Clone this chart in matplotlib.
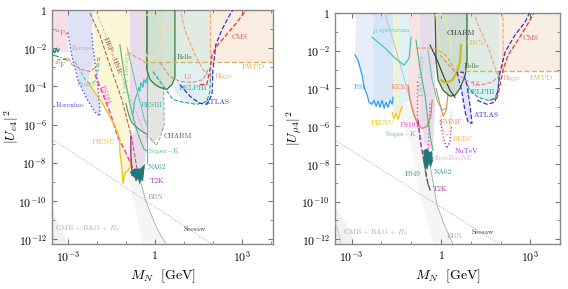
import numpy as np
import matplotlib
matplotlib.use('Agg')
import matplotlib.pyplot as plt
from matplotlib.ticker import FixedLocator, NullFormatter

plt.rcParams['font.family'] = ['cmr10', 'DejaVu Serif']
plt.rcParams['mathtext.fontset'] = 'cm'
plt.rcParams['axes.formatter.use_mathtext'] = True

# all curves as (log10 M/GeV, log10 |U|^2) pairs

# ---- common ----
seesaw_m = [-4.0, 4.5]
seesaw_k = -10.3                      # log10 of m_nu / GeV
e_bbn_band = [(-1.6, -4.5), (-1.14, -7.0), (-0.79, -9.6), (-0.41, -12.3),
              (0.41, -12.3), (0.2, -11.8), (0.0, -11.2), (-0.3, -10.05), (-0.55, -8.7), (-0.9, -6.0)]
e_bbn = [(-0.55, -8.7), (-0.3, -10.05), (0.0, -11.2), (0.2, -11.8), (0.41, -12.3)]
e_cmb = [(-3.6, -10.3), (-3.4, -10.9), (-3.2, -11.6), (-3.0, -12.3), (-3.6, -12.3)]

# ---- electron panel ----
e_pr_box = [(-3.6, 0.1), (-3.0, 0.1), (-3.0, -2.2), (-3.6, -2.2)]
e_borexino = [(-3.0, -1.19), (-2.86, -2.44), (-2.66, -3.64), (-2.34, -4.68), (-2.07, -5.35),
              (-1.90, -5.56), (-1.90, -5.19), (-2.0, -3.48), (-2.14, -1.92), (-2.17, -1.14)]
e_bugey = [(-2.76, -2.70), (-2.59, -3.12), (-2.41, -3.64), (-2.24, -3.84), (-2.07, -3.74),
           (-1.97, -3.22), (-1.90, -2.44)]
e_rovno = [(-3.38, -2.6), (-3.17, -2.6), (-3.0, -2.49), (-2.86, -2.86), (-2.52, -3.12),
           (-2.24, -3.22), (-2.0, -2.96), (-1.97, -2.49)]
e_f20 = [(-3.55, -2.35), (-3.3, -2.45), (-3.0, -2.65)]
e_f20_wig = [(-3.55, -2.3), (-3.5, -2.1), (-3.45, -2.25), (-3.4, -2.0), (-3.35, -2.2), (-3.3, -2.05)]
e_yellow = [(-2.1, 0.1), (-0.86, 0.1), (-0.86, -5.5), (-0.83, -7.79), (-0.93, -8.42), (-1.1, -9.09),
            (-1.21, -7.4), (-1.38, -6.08), (-1.79, -4.94), (-2.31, -3.79), (-2.1, -2.5)]
e_pienu = [(-2.31, -3.79), (-1.79, -4.94), (-1.38, -6.08), (-1.21, -6.75), (-1.21, -7.43),
           (-1.14, -8.21), (-1.10, -9.09), (-1.07, -8.73), (-1.0, -8.47), (-0.93, -8.42),
           (-0.86, -8.21), (-0.83, -7.79)]
e_hep = [(-2.24, -0.16), (-1.9, -1.3), (-1.62, -2.6), (-1.14, -4.68), (-0.79, -6.75), (-0.62, -8.31)]
e_gray = [(-2.07, 0.1), (-0.28, -6.75)]
e_ps191 = [(-2.07, -3.38), (-1.79, -4.42), (-1.55, -5.35), (-1.28, -6.65), (-1.03, -7.38),
           (-0.86, -7.95), (-0.76, -8.31)]
e_lnv = [(-0.86, 0.1), (-0.28, 0.1), (-0.28, -7.0), (-0.6, -6.8), (-0.86, -5.5)]
e_t2k_fill = [(-0.86, -6.5), (-0.79, -8.55), (-0.62, -9.0), (-0.41, -8.8), (-0.3, -7.3), (-0.34, -6.2)]
e_t2k = [(-0.83, -6.6), (-0.83, -7.5), (-0.80, -8.3), (-0.76, -8.6), (-0.70, -8.75)]
e_na62 = [(-0.86, -8.47), (-0.79, -8.73), (-0.72, -8.62), (-0.66, -8.99), (-0.59, -8.83),
          (-0.52, -9.14), (-0.48, -8.88), (-0.41, -8.99), (-0.38, -8.57), (-0.34, -8.05),
          (-0.5, -8.3), (-0.7, -8.3)]
e_lnv_line = [(-0.28, 0.1), (-0.28, -8.0)]
e_besiii = [(-0.76, -5.45), (-0.69, -4.68), (-0.62, -4.42), (-0.55, -4.05), (-0.52, -4.26),
            (-0.48, -3.79), (-0.41, -4.05), (-0.38, -3.64), (-0.31, -3.84), (-0.28, -3.53)]
e_sk1 = [(-1.21, -1.82), (-1.03, -3.64), (-0.86, -4.94), (-0.69, -5.97), (-0.52, -6.75),
         (-0.38, -7.27), (-0.28, -7.38)]
e_sk2 = [(-1.0, -4.9), (-0.9, -5.5), (-0.8, -5.9), (-0.65, -6.1), (-0.5, -6.3), (-0.28, -6.5)]
e_sk3 = [(-0.95, -2.0), (-0.8, -3.0), (-0.6, -4.3), (-0.45, -5.2), (-0.35, -5.8), (-0.28, -6.0)]
e_charm = [(-0.28, 0.1), (0.30, 0.1), (0.30, -6.3), (0.1, -6.7), (-0.1, -7.0), (-0.28, -6.6)]
e_charm_edge = [(0.30, -4.0), (0.32, -6.0), (0.2, -6.6), (0.05, -7.1), (-0.15, -6.7)]
e_belle = [(-0.28, 0.1), (-0.28, -3.12), (-0.17, -3.64), (0.0, -3.9), (0.17, -4.05), (0.41, -4.16),
           (0.59, -3.9), (0.69, -3.53), (0.69, 0.1)]
e_na3 = [(-0.41, -0.26), (0.0, -0.26), (0.28, -0.78), (0.28, -1.56), (0.1, -2.34), (-0.17, -2.6),
         (-0.41, -2.08), (-0.41, -0.26)]
e_orange = [(-0.95, -2.2), (-0.6, -2.5), (-0.35, -2.7)]
e_mid_green = [(0.69, 0.1), (1.9, 0.1), (1.9, -2.7), (0.69, -2.7)]
e_peach = [(1.9, 0.1), (4.2, 0.1), (4.2, -2.7), (1.9, -2.7)]
e_ewpd = [(-0.4, -2.7), (4.2, -2.7)]
e_delphi_fill = [(0.69, -2.7), (0.69, -4.3), (0.97, -4.83), (1.45, -4.94), (1.79, -4.78),
                 (1.90, -4.26), (1.93, -2.7)]
e_delphi = [(-0.07, -3.22), (0.62, -4.68), (0.97, -4.83), (1.45, -4.94), (1.79, -4.78),
            (1.90, -4.26), (1.93, -2.75)]
e_atlas = [(0.86, -3.9), (1.21, -4.52), (1.55, -4.88), (1.79, -4.94), (1.97, -4.42), (2.0, -3.12),
           (2.1, -1.82), (2.31, -1.04), (2.52, -0.42), (2.72, 0.1)]
e_cms = [(1.55, -3.9), (1.79, -3.9), (1.90, -3.12), (1.97, -2.34), (2.17, -1.82), (2.41, -1.4),
         (2.76, -0.78), (3.10, -0.1), (3.2, 0.1)]
e_l3 = [(0.17, -2.75), (0.52, -3.48), (0.86, -3.74), (1.31, -3.79), (1.66, -3.64), (1.83, -3.12)]
e_higgs = [(0.86, 0.1), (1.03, -1.04), (1.38, -2.34), (1.66, -3.12), (1.9, -3.53), (2.0, -3.38)]
e_higgs2 = [(1.9, 0.1), (1.9, -2.6)]

# ---- muon panel ----
m_psi = [(-2.89, -2.23), (-2.79, -2.5), (-2.65, -3.3), (-2.58, -3.94), (-2.48, -4.36), (-2.42, -4.73),
         (-2.32, -4.84), (-2.25, -4.63), (-2.18, -4.95), (-2.11, -4.68), (-2.05, -5.0), (-1.98, -4.63),
         (-1.91, -5.05), (-1.85, -4.73), (-1.78, -5.0), (-1.71, -4.63), (-1.64, -4.84), (-1.61, -4.47)]
m_blue_dark = [(-2.28, 0.1), (-2.28, -4.8), (-1.61, -4.5), (-1.61, 0.1)]
m_mu_spec = [(-2.32, -1.28), (-1.88, -1.86), (-1.58, -2.34), (-1.24, -2.77), (-1.07, -2.39), (-1.01, -1.28)]
m_pienu = [(-1.64, -5.27), (-1.58, -5.59), (-1.51, -5.32), (-1.44, -5.64), (-1.38, -5.27), (-1.31, -4.95)]
m_yellow = [(-1.61, 0.1), (-1.61, -5.3), (-1.38, -5.3), (-1.38, 0.1)]
m_cyan = [(-1.38, 0.1), (-1.38, -4.9), (-1.04, -4.6), (-1.04, 0.1)]
m_kek = [(-1.11, -3.83), (-1.04, -4.63), (-0.91, -5.43), (-0.77, -5.9), (-0.64, -6.12), (-0.47, -6.01),
         (-0.34, -5.43), (-0.30, -4.63)]
m_lnv = [(-0.7, 0.1), (-0.2, 0.1), (-0.2, -5.0), (-0.27, -7.3), (-0.55, -7.0), (-0.7, -5.5)]
m_gray = [(-1.91, 0.1), (-1.58, -1.6), (-0.64, -6.76)]
m_ps191_a = [(-0.8, -3.6), (-0.8, -6.0)]
m_ps191_b = [(-0.37, -4.8), (-0.44, -7.6)]
m_t2k = [(-0.77, -5.69), (-0.7, -6.76), (-0.54, -8.19), (-0.44, -9.04), (-0.34, -9.52)]
m_na62 = [(-0.6, -7.29), (-0.47, -7.18), (-0.37, -7.39), (-0.30, -7.29), (-0.27, -7.82), (-0.34, -8.19),
          (-0.40, -7.98), (-0.47, -8.35), (-0.57, -7.98)]
m_e949 = [(-0.6, -7.6), (-0.55, -8.2), (-0.48, -8.8), (-0.42, -9.2)]
m_sk = [(-0.84, -1.44), (-0.7, -3.03), (-0.54, -4.36), (-0.44, -5.69), (-0.34, -6.76), (-0.27, -7.29)]
m_lnv_curve = [(-0.44, -1.97), (-0.3, -3.56), (-0.13, -4.63), (0.03, -5.16), (0.17, -5.05)]
m_charm = [(-0.2, 0.1), (0.87, 0.1), (0.87, -2.5), (0.81, -3.3), (0.64, -3.99), (0.47, -4.36),
           (0.3, -4.41), (0.07, -4.1), (-0.1, -3.56), (-0.2, -2.5)]
m_belle = [(-0.2, 0.1), (-0.17, -2.5), (-0.1, -3.56), (0.07, -4.1), (0.3, -4.41), (0.47, -4.36),
           (0.64, -3.99), (0.81, -3.3), (0.87, -2.5), (0.87, 0.1)]
m_charm_line = [(-0.37, -1.7), (-0.13, -2.5), (0.07, -3.3), (0.3, -4.1), (0.47, -4.47)]
m_lhcb = [(0.67, -1.7), (0.64, -2.5), (0.54, -3.14), (0.37, -3.56), (0.17, -3.72), (0.0, -3.56)]
m_na3 = [(-0.17, -0.1), (0.0, -0.05), (0.17, -0.64), (0.3, -1.33), (0.37, -1.97), (0.23, -2.5),
         (0.0, -2.2), (-0.1, -1.0), (-0.17, -0.1)]
m_orange = [(-0.85, -1.86), (-0.2, -1.86), (0.2, -2.3), (0.45, -3.0)]
m_mid_green = [(0.87, 0.1), (1.95, 0.1), (1.95, -3.09), (0.87, -3.09)]
m_peach = [(1.95, 0.1), (4.1, 0.1), (4.1, -3.09), (1.95, -3.09)]
m_ewpd = [(0.8, -3.09), (4.1, -3.09)]
m_delphi_fill = [(0.81, -3.09), (0.81, -3.56), (0.97, -4.1), (1.24, -4.47), (1.58, -4.63),
                 (1.81, -4.52), (1.91, -4.1), (1.95, -3.09)]
m_delphi = [(0.81, -3.56), (0.97, -4.1), (1.24, -4.47), (1.58, -4.63), (1.81, -4.52), (1.91, -4.1),
            (1.95, -3.09)]
m_atlas_blob = [(0.54, -3.14), (0.70, -4.2), (0.81, -5.27), (0.91, -5.8), (1.04, -5.85), (0.97, -4.89),
                (0.87, -3.83), (0.74, -3.14), (0.54, -3.14)]
m_atlas = [(1.21, -4.63), (1.54, -4.84), (1.81, -4.73), (1.91, -4.1), (1.98, -3.14), (2.15, -2.07),
           (2.48, -1.17), (2.82, -0.48), (3.0, 0.1)]
m_cms = [(1.64, -4.63), (1.88, -4.52), (1.98, -3.83), (2.08, -3.03), (2.25, -2.23), (2.58, -1.44),
         (2.89, -0.64), (3.15, 0.1)]
m_l3 = [(-0.03, -2.23), (0.47, -3.14), (0.81, -3.56), (1.31, -3.83), (1.71, -3.67), (1.98, -3.3)]
m_higgs = [(1.1, 0.1), (1.2, -0.5), (1.6, -1.9), (1.85, -3.1), (1.95, -3.4)]
m_higgs2 = [(2.08, 0.1), (2.08, -2.3), (2.05, -3.1)]
m_fmmf = [(-0.17, -3.99), (-0.03, -4.89), (0.07, -5.48), (0.17, -5.16), (0.23, -4.36)]
m_bebc = [(-0.03, -5.43), (0.10, -6.22), (0.2, -6.54), (0.3, -6.12), (0.35, -5.2)]
m_nutev = [(-0.03, -5.69), (0.1, -6.76), (0.2, -7.18), (0.3, -6.76), (0.35, -6.0)]
m_bbn_band = [(-1.6, -4.5), (-1.01, -7.02), (-0.70, -9.68), (-0.23, -12.4),
              (0.44, -12.4), (0.1, -11.2), (-0.13, -10.2), (-0.3, -8.7), (-0.45, -7.3), (-0.9, -5.0)]
m_bbn = [(-0.45, -7.3), (-0.3, -8.7), (-0.13, -10.2), (0.1, -11.2), (0.44, -12.4)]
m_cmb = [(-3.6, -10.2), (-3.3, -10.9), (-3.05, -11.6), (-2.85, -12.4), (-3.6, -12.4)]
m_cmb_arc = [(-3.6, -10.9), (-3.45, -11.6), (-3.35, -12.4)]


def pts(p):
    a = np.array(p, dtype=float)
    return 10 ** a[:, 0], 10 ** a[:, 1]


def fill(ax, p, c, a=1.0, z=1):
    x, y = pts(p)
    ax.fill(x, y, color=c, alpha=a, lw=0, zorder=z)


def line(ax, p, c, ls='-', lw=0.8, z=3):
    x, y = pts(p)
    ax.plot(x, y, color=c, ls=ls, lw=lw, zorder=z)


def lab(ax, s, lm, lu, c, rot=0, ha='center', fs=5.3):
    ax.text(10 ** lm, 10 ** lu, s, color=c, rotation=rot, ha=ha, va='center', fontsize=fs, zorder=6)


fig = plt.figure(figsize=(5.68, 2.89), dpi=100)
ax1 = fig.add_axes([0.0915, 0.1557, 0.389, 0.8097])
ax2 = fig.add_axes([0.5898, 0.1557, 0.396, 0.7993])

for ax in (ax1, ax2):
    ax.set_xscale('log')
    ax.set_yscale('log')
    ax.set_ylim(10 ** -12.25, 1)
    m = np.array(seesaw_m)
    ax.plot(10 ** m, 10 ** (seesaw_k - m), color='#999999', ls=':', lw=0.6, zorder=2)
    ax.xaxis.set_major_locator(FixedLocator([1e-3, 1, 1e3]))
    ax.set_xticklabels([r'$10^{-3}$', r'$1$', r'$10^{3}$'])
    ax.xaxis.set_minor_locator(FixedLocator([10.0 ** k for k in range(-4, 5)]))
    ax.xaxis.set_minor_formatter(NullFormatter())
    ax.yaxis.set_major_locator(FixedLocator([10.0 ** k for k in range(-12, 1, 2)]))
    ax.set_yticklabels([r'$10^{%d}$' % k if k else r'$1$' for k in range(-12, 1, 2)])
    ax.yaxis.set_minor_locator(FixedLocator([10.0 ** k for k in range(-13, 1)]))
    ax.yaxis.set_minor_formatter(NullFormatter())
    ax.tick_params(which='both', direction='in', top=True, right=True, color='#777777', labelsize=8.5)
    ax.tick_params(which='major', length=3.5)
    ax.tick_params(which='minor', length=2)
    for s in ax.spines.values():
        s.set_color('#888888')
        s.set_linewidth(1.0)
    ax.set_xlabel(r'$M_N\ \ [\mathrm{GeV}]$', fontsize=10, labelpad=3)

ax1.set_xlim(10 ** -3.55, 10 ** 4.07)
ax2.set_xlim(10 ** -3.56, 10 ** 3.99)
ax1.set_ylabel(r'$|U_{e4}|^2$', fontsize=10)
ax2.set_ylabel(r'$|U_{\mu 4}|^2$', fontsize=10)
ax1.yaxis.set_label_coords(-0.14, 0.5)
ax2.yaxis.set_label_coords(-0.14, 0.5)

# ---------------- electron panel ----------------
a = ax1
fill(a, e_cmb, '#f1f1f1')
fill(a, e_bbn_band, '#f5f5f5')
line(a, e_bbn, '#aaaaaa', lw=0.6)
fill(a, e_pr_box, '#f6e0e7')
fill(a, [(-3.0, 0.1)] + e_borexino + [(-2.1, 0.1)], '#dfe2f4')
fill(a, e_yellow, '#fbf6d6')
fill(a, e_lnv, '#e6dced')
fill(a, e_t2k_fill, '#eadcf0')
fill(a, e_charm, '#e3e5e3')
fill(a, e_belle, '#cfe0d2', 0.9)
fill(a, e_mid_green, '#e1ebe2')
fill(a, e_peach, '#f8ede0')
fill(a, e_delphi_fill, '#e0f1f1')
fill(a, e_na62, '#1e7878', z=4)

line(a, e_gray, '#bbbbbb', '--', 0.6)
line(a, e_borexino, '#5555ee', ':', 1.0)
line(a, e_bugey, '#55cccc', '--')
line(a, e_rovno, '#e88080', '--')
line(a, e_f20, '#3a9a3a', '-.')
line(a, e_f20_wig, '#1e8a8a', '-', 0.9)
line(a, e_hep, '#b06a40', '--')
line(a, e_ps191, '#ff33cc', '--', 1.0)
line(a, e_pienu, '#f2c200', '-', 0.9)
line(a, e_t2k, '#a030a8', '-', 1.0)
line(a, e_lnv_line, '#50c0a0', '-', 0.8)
line(a, e_besiii, '#30c0c0', '-', 0.8)
line(a, e_sk1, '#50b878')
line(a, e_sk2, '#3a9a6a')
line(a, e_sk3, '#70c8a0')
line(a, e_charm_edge, '#999999', '--', 0.7)
line(a, e_belle, '#2e7d32', '-', 0.9)
line(a, e_na3, '#efe3b8', '-', 0.9)
line(a, e_orange, '#e8a060', '--')
line(a, e_ewpd, '#d8b060', '--', 1.0)
line(a, e_delphi, '#2a9d9d', '--')
line(a, e_l3, '#f08080', '--')
line(a, e_higgs, '#f4a070', '--')
line(a, e_higgs2, '#f4a070', '--')
line(a, e_atlas, '#3333cc', '--', 0.9)
line(a, e_cms, '#ee3333', '--', 0.9)

lab(a, r'$^{44}$Pr', -3.21, -1.19, '#e06070')
lab(a, 'Rovno', -2.52, -1.97, '#e89090')
lab(a, r'$^{20}$F', -3.28, -2.86, '#3a9a3a')
lab(a, 'Bugey', -2.34, -3.9, '#60d0d0')
lab(a, 'Borexino', -2.93, -4.99, '#4444dd')
lab(a, r'HEP$-$JINR', -1.45, -2.34, '#a0522d', rot=-68)
lab(a, 'LNV Decays', -0.97, -3.27, '#70c8a0', rot=90)
lab(a, 'PS191', -1.72, -4.42, '#ff33cc', rot=-70)
lab(a, 'BESIII', -0.1, -4.99, '#40b0b0')
lab(a, 'PIENU', -1.76, -6.91, '#f2c200')
lab(a, 'CHARM', 0.79, -6.6, '#555555')
lab(a, r'Super$-$K', -0.24, -7.38, '#50c080', ha='left')
lab(a, 'NA62', -0.24, -8.21, '#2a8f8f', ha='left')
lab(a, 'T2K', -0.17, -8.94, '#a030a8', ha='left')
lab(a, 'BBN', -0.24, -9.77, '#999999', ha='left')
lab(a, 'NA3', 0.41, -0.94, '#efe3b8')
lab(a, 'Belle', 1.03, -2.49, '#2e6b2e')
lab(a, 'L3', 1.14, -3.53, '#f08080')
lab(a, 'DELPHI', 1.31, -4.1, '#2a9d9d')
lab(a, 'ATLAS', 2.14, -4.83, '#3333cc')
lab(a, 'Higgs', 2.38, -3.48, '#f4a070')
lab(a, 'CMS', 2.93, -1.4, '#ee4444')
lab(a, 'EWPD', 3.38, -3.01, '#d4b060')
lab(a, r'CMB$\,+\,$BAO$\,+\,H_0$', -3.45, -11.48, '#aaaaaa', ha='left')
lab(a, 'Seesaw', 1.38, -11.48, '#333333')

# ---------------- muon panel ----------------
a = ax2
fill(a, m_cmb, '#f1f1f1')
line(a, m_cmb_arc, '#bbbbbb', lw=0.5)
fill(a, m_bbn_band, '#f5f5f5')
line(a, m_bbn, '#aaaaaa', lw=0.6)
fill(a, [(-2.85, 0.1)] + m_psi + [(-1.61, 0.1)], '#e6eef9')
fill(a, m_blue_dark, '#d7e6f6')
fill(a, m_yellow, '#eef2d6')
fill(a, m_cyan, '#e0f2f3')
fill(a, [(-1.06, 0.1)] + m_kek + [(-0.3, 0.1)], '#f6e1e1', 0.9)
fill(a, m_lnv, '#e6dcec', 0.9)
fill(a, m_charm, '#cfded2')
fill(a, m_mid_green, '#e2ebe3')
fill(a, m_peach, '#f8eee2')
fill(a, m_delphi_fill, '#dff0f0')
fill(a, m_atlas_blob, '#e3e3f6')
fill(a, m_na62, '#1e7878', z=4)

line(a, m_gray, '#bbbbbb', '-', 0.6)
line(a, m_psi, '#3399ff', '-', 0.9)
line(a, m_mu_spec, '#40c8c8', '-', 0.9)
line(a, m_pienu, '#f2c200', '-', 0.9)
line(a, m_kek, '#f07858', '-', 0.9)
line(a, m_ps191_a, '#ff33cc', ':', 1.0)
line(a, m_ps191_b, '#ff33cc', ':', 1.0)
line(a, m_sk, '#50b878')
line(a, m_lnv_curve, '#70c8a0')
line(a, m_t2k, '#a030a8', '--', 1.0)
line(a, m_e949, '#3a9a3a', '-.', 0.9)
line(a, m_fmmf, '#e08850', '-', 0.8)
line(a, m_bebc, '#f4b060', ':', 0.9)
line(a, m_nutev, '#8a2be2', ':', 0.9)
line(a, m_belle, '#2e6b2e', '-', 0.9)
line(a, m_charm_line, '#333333', '-', 0.8)
line(a, m_lhcb, '#c8c030', '-', 1.8)
line(a, m_na3, '#efe3b8', '-', 0.9)
line(a, m_orange, '#d8a050', '--')
line(a, m_ewpd, '#d8b060', '--', 1.0)
line(a, m_delphi, '#2a9d9d', '--')
line(a, m_l3, '#f08080', '--')
line(a, m_higgs, '#f4a070', '--')
line(a, m_higgs2, '#f4a070', '--')
line(a, m_atlas_blob, '#3333cc', '--', 0.9)
line(a, m_atlas, '#3333cc', '--', 0.9)
line(a, m_cms, '#ee3333', '--', 0.9)

lab(a, 'PSI', -2.72, -3.94, '#3399ff')
lab(a, r'$\mu$ spectrum', -1.68, -0.96, '#40c8c8')
lab(a, 'KEK', -1.41, -3.94, '#f08070')
lab(a, 'LNV Decays', -0.64, -3.3, '#70c8a0', rot=90)
lab(a, 'NA3', 0.37, -0.37, '#efe3b8')
lab(a, 'CHARM', 0.67, -1.06, '#333333')
lab(a, 'LHCb', 1.14, -1.6, '#c8c030')
lab(a, 'Belle', 1.04, -2.82, '#2e6b2e')
lab(a, 'L3', 1.17, -3.78, '#f08080')
lab(a, 'DELPHI', 1.34, -4.2, '#2a9d9d')
lab(a, 'ATLAS', 1.51, -5.43, '#3333cc')
lab(a, 'Higgs', 2.38, -3.46, '#f4a070')
lab(a, 'EWPD', 3.36, -3.46, '#d4b060')
lab(a, 'CMS', 3.02, -1.33, '#ee4444')
lab(a, 'PIENU', -1.95, -5.85, '#f2c200')
lab(a, 'PS191', -1.04, -5.96, '#ff33cc')
lab(a, 'FMMF', 0.34, -5.8, '#e08850')
lab(a, r'Super$-$K', -1.34, -6.44, '#50c080')
lab(a, 'BEBC', 0.74, -6.7, '#f4b060')
lab(a, 'NuTeV', 0.87, -7.34, '#8a2be2')
lab(a, 'MicroBooNE', 0.34, -7.71, '#e0a0e0')
lab(a, 'E949', -0.94, -8.56, '#3a9a3a')
lab(a, 'NA62', 0.07, -8.46, '#2a8f8f')
lab(a, 'T2K', -0.03, -9.36, '#a030a8')
lab(a, 'BBN', 0.47, -11.81, '#aaaaaa')
lab(a, 'Seesaw', 1.41, -11.6, '#333333')
lab(a, r'CMB$\,+\,$BAO$\,+\,H_0$', -3.29, -11.65, '#aaaaaa', ha='left')

fig.savefig('out.png', dpi=100)
